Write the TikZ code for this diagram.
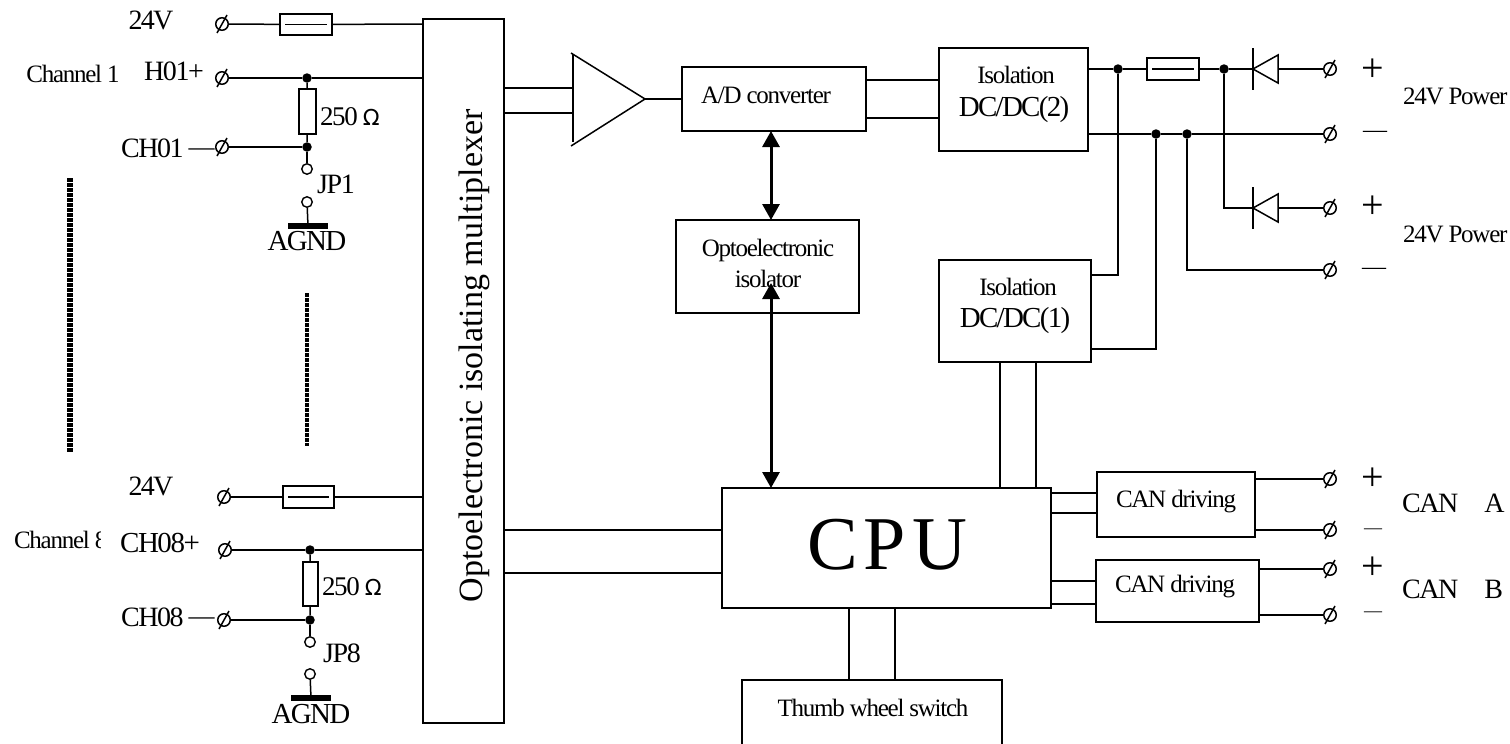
\documentclass[tikz,border=0pt]{standalone}
\usepackage{fontspec}
\setmainfont{Liberation Serif}
\usetikzlibrary{arrows.meta}
\newcommand{\fs}[2]{\fontsize{#1}{#2}\selectfont}
\newcommand{\tight}[1]{\addfontfeature{LetterSpace=#1}}
\newcommand{\ldash}{\hspace{5pt}\raisebox{2pt}{\fs{26}{26}—}}
\tikzset{
  x=1pt,y=-1pt,
  wire/.style={line width=1.5pt,draw=black},
  box/.style={draw=black,line width=1.5pt,inner sep=0pt,outer sep=0pt,align=center,fill=none},
  term/.style={circle,draw=black,line width=1.5pt,inner sep=0pt,minimum size=12.5pt,outer sep=0pt},
  jdot/.style={circle,fill=black,inner sep=0pt,minimum size=9.5pt},
  jopen/.style={circle,draw=black,fill=white,line width=1.4pt,inner sep=0pt,minimum size=10.5pt},
  lab/.style={inner sep=0pt,outer sep=0pt,text=black},
  lbig/.style={lab,font=\fs{28}{30}\tight{-5}},
  lsmall/.style={lab,font=\fs{25}{31}\tight{-5}},
  sign/.style={lab,font=\fs{40}{40}},
  dbl/.style={line width=3pt,{Triangle[length=16pt,width=17pt]}-{Triangle[length=16pt,width=17pt]}},
  gnd/.style={draw=none,fill=black,inner sep=0pt,minimum width=40pt,minimum height=6pt},
}
% \bx{name}{x0}{y0}{x1}{y1}{text}{style}
\newcommand{\bx}[7]{%
  \pgfmathsetmacro{\bcx}{(#2+#4)/2}\pgfmathsetmacro{\bcy}{(#3+#5)/2}%
  \pgfmathsetmacro{\bwd}{#4-#2}\pgfmathsetmacro{\bht}{#5-#3}%
  \node[box,minimum width=\bwd pt,minimum height=\bht pt,#7] (#1) at (\bcx,\bcy) {#6};}
\newcommand{\tm}[2]{%
  \node[term] (#1) at (#2) {};
  \draw[line width=1.5pt] ([shift={(-5pt,-9pt)}]#1.center) -- ([shift={(5pt,9pt)}]#1.center);}
\newcommand{\fuse}[5]{% name x0 y0 x1 y1
  \bx{#1}{#2}{#3}{#4}{#5}{}{}
  \draw[line width=1.2pt] ([xshift=5pt]#1.west) -- ([xshift=-5pt]#1.east);}
\begin{document}
\begin{tikzpicture}
\useasboundingbox (0,0) rectangle (1510,744);
% ---- boxes
\bx{mux}{423}{19}{504}{723}{}{}
\bx{adc}{682}{67}{866}{131}{}{}
\bx{opto}{676}{220}{859}{313}{}{}
\bx{iso2}{939}{48}{1088}{151}{}{}
\bx{iso1}{939}{260}{1091}{362}{}{}
\bx{cpu}{722}{488}{1051}{608}{}{}
\bx{cana}{1097}{472}{1255}{537}{}{}
\bx{canb}{1096}{560}{1259}{622}{}{}
\bx{thumb}{742}{680}{1002}{750}{}{}
% ---- texts in boxes
\node[lab,rotate=90,font=\fs{34}{36}] (muxt) at (474,356) {Optoelectronic isolating multiplexer};
\node[lsmall] (adct) at (766,95) {A/D converter};
\node[lsmall,align=center] (optot) at (768,263) {Optoelectronic\\isolator};
\node[lsmall] (iso2a) at (1016,75) {Isolation};
\node[lab,font=\fs{29}{30}\tight{-6}] (iso2b) at (1014,110) {DC/DC(2)};
\node[lsmall] (iso1a) at (1018,287) {Isolation};
\node[lab,font=\fs{29}{30}\tight{-6}] (iso1b) at (1015,321) {DC/DC(1)};
\node[lab,font=\fs{76}{78}\tight{8}] (cput) at (887,545) {CPU};
\node[lsmall] (canat) at (1176,502) {CAN driving};
\node[lsmall] (canbt) at (1175,587) {CAN driving};
\node[lsmall] (thumbt) at (873,708) {Thumb wheel switch};
% ---- channel 1
\tm{t1}{222,24}
\tm{t2}{222,78}
\tm{t3}{222,147}
\fuse{f1}{280}{14}{332}{35}
\draw[wire] (t1) -- (f1);
\coordinate (m1) at (mux.west |- t1);
\draw[wire] (f1) -- (m1);
\node[jdot] (d1) at (307,78) {};
\coordinate (m2) at (mux.west |- t2);
\draw[wire] (t2) -- (d1) -- (m2);
\bx{r1}{299}{89}{316}{134}{}{}
\node[jdot] (d2) at (307,147) {};
\draw[wire] (t3) -- (d2);
\draw[wire] (d1) -- (r1) -- (d2);
\node[jopen] (o1) at (307,169) {};
\node[jopen] (o2) at (307,202) {};
\node[gnd] (g1) at (308,226) {};
\draw[wire] (d2) -- (o1);
\draw[wire] (o2) -- (g1);
\node[lbig,font=\fs{28}{28}\tight{-6}] (l1) at (151,20) {24V};
\node[lbig] (l2) at (174,71) {H01+};
\node[lsmall] (l3) at (73,74) {Channel 1};
\node[lbig,anchor=west] (l4) at (121,148) {CH01\ldash};
\node[lab,anchor=west,font=\fs{27}{28}\tight{-5}] (l5) at (320,117) {250\hspace{5pt}\fontspec{DejaVu Sans}\fs{22}{22}Ω};
\node[lbig] (l6) at (336,184) {JP1};
\node[lbig,font=\fs{29}{30}\tight{-6}] (l7) at (307,241) {AGND};
% ---- channel 8
\tm{t4}{224,497}
\tm{t5}{225,550}
\tm{t6}{224,620}
\fuse{f2}{283}{486}{334}{508}
\draw[wire] (t4) -- (f2);
\coordinate (m3) at (mux.west |- t4);
\draw[wire] (f2) -- (m3);
\node[jdot] (d3) at (310,550) {};
\coordinate (m4) at (mux.west |- t5);
\draw[wire] (t5) -- (d3) -- (m4);
\bx{r2}{303}{562}{318}{606}{}{}
\node[jdot] (d4) at (310,620) {};
\draw[wire] (t6) -- (d4);
\draw[wire] (d3) -- (r2) -- (d4);
\node[jopen] (o3) at (310,642) {};
\node[jopen] (o4) at (310,674) {};
\node[gnd] (g2) at (311,698) {};
\draw[wire] (d4) -- (o3);
\draw[wire] (o4) -- (g2);
\node[lbig,font=\fs{28}{28}\tight{-6}] (l8) at (151,486) {24V};
\node[lbig,font=\fs{29}{30}\tight{-5}] (l9) at (160,543) {CH08+};
\begin{scope}
\clip (0,520) rectangle (100,560);
\node[lsmall,anchor=west] (l10) at (14,540) {Channel 8};
\end{scope}
\node[lbig,anchor=west] (l11) at (121,617) {CH08\ldash};
\node[lab,anchor=west,font=\fs{27}{28}\tight{-5}] (l12) at (322,587) {250\hspace{5pt}\fontspec{DejaVu Sans}\fs{22}{22}Ω};
\node[lbig] (l13) at (342,653) {JP8};
\node[lbig,font=\fs{29}{30}\tight{-6}] (l14) at (311,714) {AGND};
% ---- dotted
\coordinate (v1a) at (70,178); \coordinate (v1b) at (70,452);
\coordinate (v2a) at (307,293); \coordinate (v2b) at (307,446);
\draw[line width=6pt,dash pattern=on 3.5pt off 1.5pt] (v1a) -- (v1b);
\draw[line width=4pt,dash pattern=on 3.5pt off 1.5pt] (v2a) -- (v2b);
% ---- amp
\coordinate (a1) at (573,54); \coordinate (a2) at (573,142); \coordinate (a3) at (645,99);
\coordinate (a4) at (571,146); \coordinate (a5) at (571,53);
\draw[wire] (a1) -- (a2);
\draw[wire] (a5) -- (a3) -- (a4);
\coordinate (m5) at (mux.east |- 0,88); \coordinate (a6) at (573,88);
\coordinate (m6) at (mux.east |- 0,113); \coordinate (a7) at (573,113);
\draw[wire] (m5) -- (a6);
\draw[wire] (m6) -- (a7);
\coordinate (a8) at (adc.west |- a3);
\draw[wire] (a3) -- (a8);
% ---- adc-iso2
\coordinate (e1) at (adc.east |- 0,80); \coordinate (e2) at (iso2.west |- 0,80);
\coordinate (e3) at (adc.east |- 0,118); \coordinate (e4) at (iso2.west |- 0,118);
\draw[wire] (e1) -- (e2);
\draw[wire] (e3) -- (e4);
% ---- arrows
\coordinate (ar1) at (771,131); \coordinate (ar2) at (771,220);
\coordinate (ar3) at (771,283); \coordinate (ar4) at (771,488);
\draw[dbl] (ar1) -- (ar2);
\draw[dbl] (ar3) -- (ar4);
% ---- power
\tm{p1}{1330,69}
\tm{p2}{1330,134}
\tm{p3}{1330,208}
\tm{p4}{1330,270}
\node[jdot] (j1) at (1118,69) {};
\node[jdot] (j2) at (1224,69) {};
\node[jdot] (j3) at (1156,134) {};
\node[jdot] (j4) at (1187,134) {};
\fuse{f3}{1147}{58}{1199}{80}
\coordinate (i2a) at (iso2.east |- j1);
\coordinate (i2b) at (iso2.east |- j3);
\draw[wire] (i2a) -- (j1) -- (f3) -- (j2);
\draw[wire] (i2b) -- (j3) -- (j4) -- (p2);
% diode 1
\coordinate (dk1) at (1253,69); \coordinate (dk1a) at (1253,48); \coordinate (dk1b) at (1253,90);
\coordinate (da1a) at (1278,55); \coordinate (da1b) at (1278,83); \coordinate (da1) at (1278,69);
\draw[wire] (j2) -- (dk1);
\draw[wire] (dk1a) -- (dk1b);
\draw[wire] (dk1) -- (da1a) -- (da1b) -- cycle;
\draw[wire] (da1) -- (p1);
% diode 2
\coordinate (dk2) at (1253,208); \coordinate (dk2a) at (1253,187); \coordinate (dk2b) at (1253,229);
\coordinate (da2a) at (1278,194); \coordinate (da2b) at (1278,222); \coordinate (da2) at (1278,208);
\draw[wire] (j2) |- (dk2);
\draw[wire] (dk2a) -- (dk2b);
\draw[wire] (dk2) -- (da2a) -- (da2b) -- cycle;
\draw[wire] (da2) -- (p3);
\draw[wire] (j4) |- (p4);
\coordinate (i1a) at (iso1.east |- 0,275);
\coordinate (i1b) at (iso1.east |- 0,349);
\draw[wire] (i1a) -| (j1);
\draw[wire] (i1b) -| (j3);
\node[sign] (s1) at (1373,70) {+};
\node[lab,font=\fs{24}{24}] (s2) at (1375,134) {—};
\node[sign] (s3) at (1373,207) {+};
\node[lab,font=\fs{24}{24}] (s4) at (1374,271) {—};
\node[lsmall,anchor=west] (pw1) at (1403,96) {24V Power};
\node[lsmall,anchor=west] (pw2) at (1403,234) {24V Power};
% ---- CPU links
\coordinate (c1) at (mux.east |- 0,530); \coordinate (c2) at (cpu.west |- 0,530);
\coordinate (c3) at (mux.east |- 0,573); \coordinate (c4) at (cpu.west |- 0,573);
\draw[wire] (c1) -- (c2);
\draw[wire] (c3) -- (c4);
\coordinate (c5) at (1000,362); \coordinate (c6) at (1000,488);
\coordinate (c7) at (1036,362); \coordinate (c8) at (1036,488);
\draw[wire] (c5) -- (c6);
\draw[wire] (c7) -- (c8);
\coordinate (c9) at (849,608); \coordinate (c10) at (849,680);
\coordinate (c11) at (895,608); \coordinate (c12) at (895,680);
\draw[wire] (c9) -- (c10);
\draw[wire] (c11) -- (c12);
% ---- CAN
\coordinate (k1) at (cpu.east |- 0,493); \coordinate (k2) at (cana.west |- 0,493);
\coordinate (k3) at (cpu.east |- 0,513); \coordinate (k4) at (cana.west |- 0,513);
\coordinate (k5) at (cpu.east |- 0,581); \coordinate (k6) at (canb.west |- 0,581);
\coordinate (k7) at (cpu.east |- 0,604); \coordinate (k8) at (canb.west |- 0,604);
\draw[wire] (k1) -- (k2);
\draw[wire] (k3) -- (k4);
\draw[wire] (k5) -- (k6);
\draw[wire] (k7) -- (k8);
\tm{q1}{1330,479}
\tm{q2}{1330,530}
\tm{q3}{1330,569}
\tm{q4}{1330,615}
\coordinate (k9) at (cana.east |- q1);
\coordinate (k10) at (cana.east |- q2);
\coordinate (k11) at (canb.east |- q3);
\coordinate (k12) at (canb.east |- q4);
\draw[wire] (k9) -- (q1);
\draw[wire] (k10) -- (q2);
\draw[wire] (k11) -- (q3);
\draw[wire] (k12) -- (q4);
\node[sign] (s5) at (1373,479) {+};
\node[lab,font=\fs{18}{18}] (s6) at (1373,531) {—};
\node[sign] (s7) at (1373,568) {+};
\node[lab,font=\fs{18}{18}] (s8) at (1373,614) {—};
\node[lab,anchor=west,font=\fs{28}{30}\tight{-5}] (ca) at (1402,503) {CAN\hspace{26pt}A};
\node[lab,anchor=west,font=\fs{28}{30}\tight{-5}] (cb) at (1402,589) {CAN\hspace{26pt}B};
\end{tikzpicture}
\end{document}
